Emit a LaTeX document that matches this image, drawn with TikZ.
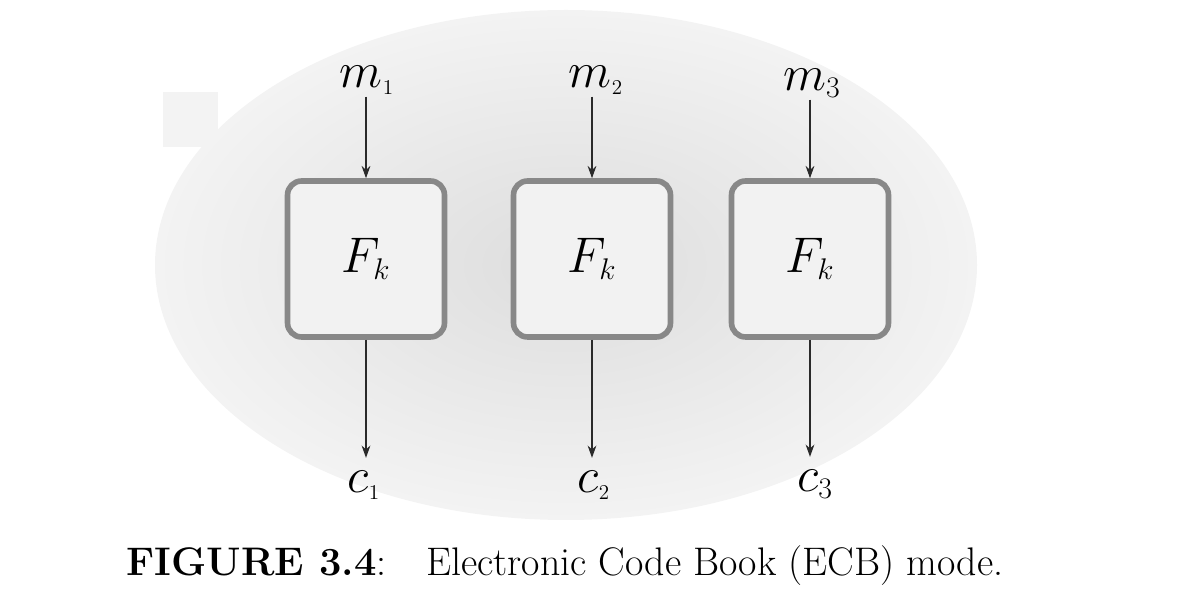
\RequirePackage{fix-cm}
\documentclass[tikz,border=0pt]{standalone}
\usepackage{amsmath}
\usepackage{xcolor}
\usepackage{tikz}
\usetikzlibrary{positioning,arrows.meta,shapes}

\DeclareMathSizes{28.5}{28.5}{17}{12}

\definecolor{boxline}{HTML}{888888}
\definecolor{boxfill}{HTML}{F2F2F2}
\definecolor{ellin}{HTML}{DDDDDD}
\definecolor{ellout}{HTML}{F3F3F3}
\definecolor{arrowcol}{HTML}{2A2A2A}

\begin{document}
\begin{tikzpicture}[
        x=0.02cm, y=-0.02cm,
        box/.style = {draw=boxline, fill=boxfill, line width=3.2pt, rounded corners=8pt,
                      minimum width=3.14cm, minimum height=3.12cm, font=\fontsize{28.5}{32}\selectfont},
        label/.style = {font=\fontsize{28.5}{32}\selectfont, inner sep=1pt},
        arrow/.style = {-{Stealth[length=7pt,width=5pt]}, color=arrowcol, line width=0.6pt}
    ]
    \useasboundingbox (0,0) rectangle (1180,590);

    % background
    \fill[ellout] (163,92) rectangle (218,147);
    \shade[inner color=ellin, outer color=ellout] (566,265) ellipse [x radius=411, y radius=255];

    \node[box] (f1) at (366,259) {$F_k$};
    \node[box] (f2) at (592,259) {$F_k$};
    \node[box] (f3) at (810,259) {$F_k$};

    \node[label] (m1) at (367,80) {$m_{\scriptscriptstyle 1}$};
    \node[label] (m2) at (596,80) {$m_{\scriptscriptstyle 2}$};
    \node[label] (m3) at (812,83) {$m_3$};

    \node[label] (c1) at (364,485) {$c_{\scriptscriptstyle 1}$};
    \node[label] (c2) at (594,485) {$c_{\scriptscriptstyle 2}$};
    \node[label] (c3) at (815,484) {$c_3$};

    % Arrows
    \draw[arrow] (m1.south -| f1.north) -- (f1.north);
    \draw[arrow] (m2.south -| f2.north) -- (f2.north);
    \draw[arrow] (m3.south -| f3.north) -- (f3.north);
    \draw[arrow, shorten >=6pt] (f1.south) -- (c1.north -| f1.south);
    \draw[arrow, shorten >=6pt] (f2.south) -- (c2.north -| f2.south);
    \draw[arrow, shorten >=6pt] (f3.south) -- (c3.north -| f3.south);

    % caption
    \node[font=\fontsize{22.7}{26}\selectfont] (cap) at (565,566)
        {\textbf{FIGURE 3.4}:\quad Electronic Code Book (ECB) mode.};
\end{tikzpicture}
\end{document}
